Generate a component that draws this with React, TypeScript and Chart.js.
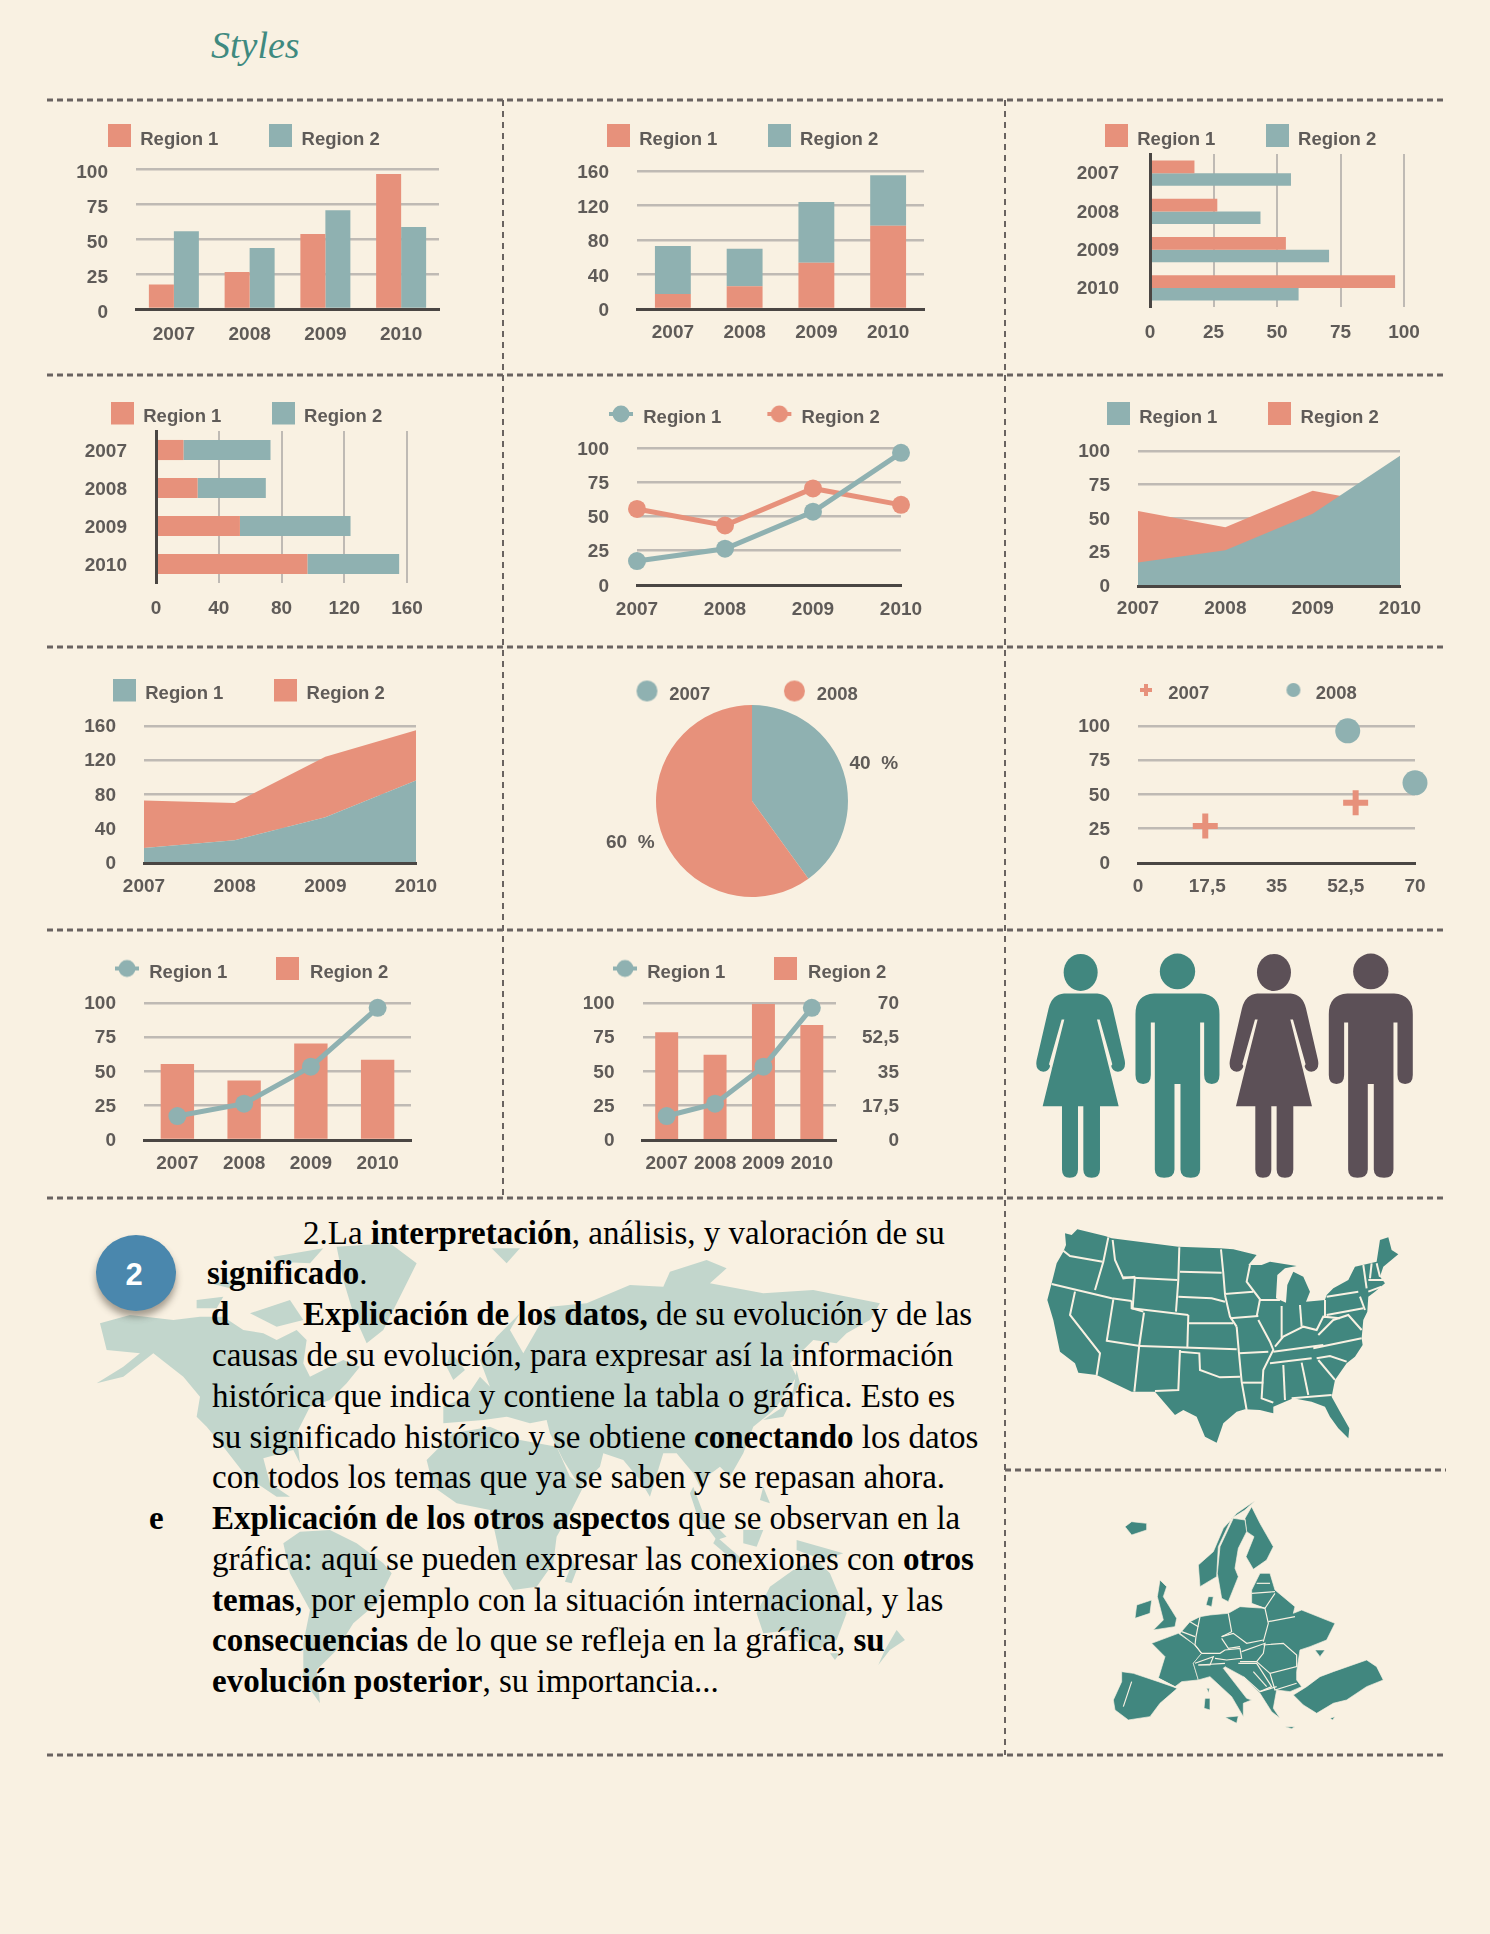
import React, { useEffect, useRef } from "react";
import { Chart, registerables } from "chart.js";

Chart.register(...registerables);

// ---------- data ----------
const years = ["2007", "2008", "2009", "2010"];
const region1 = [17.5, 26.5, 53.5, 96.5];
const region2 = [55.5, 43.5, 70.5, 58.5];
const rightAxisBars = [55, 43.5, 69.5, 58.8];
const pieLabels = ["2007", "2008"];
const pieValues = [40, 60];
const scatter2007X = [17, 55];
const scatter2007Y = [27, 44];
const scatter2008X = [53, 70];
const scatter2008Y = [96.5, 58.5];
const ticks70 = [0, 17.5, 35, 52.5, 70];

const textLines: any[] = [
  { x: 303, parts: [["2.La ", 0], ["interpretación", 1], [", análisis, y valoración de su", 0]] },
  { x: 207, parts: [["significado", 1], [".", 0]] },
  { x: 303, lead: ["d", 211], parts: [["Explicación de los datos,", 1], [" de su evolución y de las", 0]] },
  { x: 212, parts: [["causas de su evolución, para expresar así la información", 0]] },
  { x: 212, parts: [["histórica que indica y contiene la tabla o gráfica. Esto es", 0]] },
  { x: 212, parts: [["su significado histórico y se obtiene ", 0], ["conectando", 1], [" los datos", 0]] },
  { x: 212, parts: [["con todos los temas que ya se saben y se repasan ahora.", 0]] },
  { x: 212, lead: ["e", 149], parts: [["Explicación de los otros aspectos", 1], [" que se observan en la", 0]] },
  { x: 212, parts: [["gráfica: aquí se pueden expresar las conexiones con ", 0], ["otros", 1]] },
  { x: 212, parts: [["temas", 1], [", por ejemplo con la situación internacional, y las", 0]] },
  { x: 212, parts: [["consecuencias", 1], [" de lo que se refleja en la gráfica, ", 0], ["su", 1]] },
  { x: 212, parts: [["evolución posterior", 1], [", su importancia...", 0]] },
];

// ---------- style ----------
const BG = "#f9f1e2";
const SALMON = "#e7917b";
const SLATE = "#8fb1b1";
const TEAL = "#41877f";
const PLUM = "#5c5057";
const INK = "#5f5b58";
const GRID = "#bfbab4";
const AXIS = "#4a4643";
const FONT = "'Liberation Sans', Arial, sans-serif";
const MARK_SHIFT = 4;

function mk(w: number, h: number, draw: (c: any) => void) {
  const cv = document.createElement("canvas");
  cv.width = w;
  cv.height = h + 2 * MARK_SHIFT;
  draw(cv.getContext("2d"));
  return cv;
}
const swatch = (color: string) => mk(23, 23, (c) => { c.fillStyle = color; c.fillRect(0, 0, 23, 23); });
const dot = (color: string, r: number) =>
  mk(2 * r + 2, 2 * r + 2, (c) => { c.fillStyle = color; c.beginPath(); c.arc(r + 1, r + 1, r, 0, 7); c.fill(); });
const lineDot = (color: string) =>
  mk(26, 20, (c) => {
    c.fillStyle = color;
    c.fillRect(1, 8, 24, 4);
    c.beginPath(); c.arc(13, 10, 8.5, 0, 7); c.fill();
  });
const plus = (color: string) =>
  mk(14, 14, (c) => { c.fillStyle = color; c.fillRect(5, 1, 4, 12); c.fillRect(1, 5, 12, 4); });

const fitToCell = (s: any) => {
  const d = s.chart.canvas.dataset;
  if (s.isHorizontal()) s.height = +d.bottom;
  else if (s.position === "right") s.width = +d.right;
  else s.width = +d.left;
  s.paddingLeft = s.paddingRight = s.paddingTop = s.paddingBottom = 0;
};

const valueAxis = (max: number, step: number, horizontal: boolean, pad: number, labelOffset = 1.5) => ({
  min: 0,
  max,
  afterFit: fitToCell,
  grid: { color: GRID, lineWidth: horizontal ? 2 : 2.6, drawTicks: false, tickLength: 0 },
  border: { display: false },
  ticks: {
    stepSize: step,
    padding: pad,
    labelOffset: horizontal ? 0 : labelOffset,
    color: INK,
    font: { family: FONT, weight: "bold", size: 19 },
    autoSkip: false,
    maxRotation: 0,
    callback: (v: any) => String(v).replace(".", ","),
  },
});
const catAxis = (pad: number, offset = true, labelOffset = 0) => ({
  afterFit: fitToCell,
  offset,
  grid: { display: false, drawTicks: false, tickLength: 0 },
  border: { display: true, color: AXIS, width: 3, z: 1 },
  ticks: {
    padding: pad,
    labelOffset,
    color: INK,
    font: { family: FONT, weight: "bold", size: 19 },
    autoSkip: false,
    maxRotation: 0,
    minRotation: 0,
  },
});

const barSet = (label: string, data: number[], color: string, extra: any = {}) => ({
  label, data, backgroundColor: color, borderWidth: 0, barPercentage: 1, ...extra,
});
const lineSet = (label: string, data: number[], color: string) => ({
  type: "line", label, data, borderColor: color, backgroundColor: color, borderWidth: 5, tension: 0,
  pointRadius: 9, pointBackgroundColor: color, pointBorderWidth: 0, clip: false,
});
const areaSet = (label: string, data: number[], color: string, fill: any) => ({
  label, data, fill, backgroundColor: color, borderWidth: 0, tension: 0, pointRadius: 0,
});

const pieLabelPlugin = {
  id: "pieLabels",
  afterDatasetsDraw(chart: any) {
    const { ctx } = chart;
    const meta = chart.getDatasetMeta(0);
    ctx.save();
    ctx.font = `bold 19px ${FONT}`;
    ctx.fillStyle = INK;
    ctx.textAlign = "center";
    ctx.textBaseline = "middle";
    meta.data.forEach((arc: any, i: number) => {
      const p = arc.getProps(["x", "y", "startAngle", "endAngle"], true);
      const mid = (p.startAngle + p.endAngle) / 2;
      ctx.fillText(`${pieValues[i]}  %`, p.x + Math.cos(mid) * 128, p.y + Math.sin(mid) * 128 + 2);
    });
    ctx.restore();
  },
};

// box: canvas rectangle, plot: target chart area (page pixels); legend: marker-left x, centre y, gap, marker box width
const charts: any[] = [
  {
    box: [50, 104, 500, 372], plot: [136, 169, 439, 309],
    legend: { x: 108, y: 135.5, gap: 51, w: 23, items: () => [["Region 1", swatch(SALMON)], ["Region 2", swatch(SLATE)]] },
    config: () => ({
      type: "bar",
      data: { labels: years, datasets: [barSet("Region 1", region1, SALMON, { categoryPercentage: 0.66 }), barSet("Region 2", region2, SLATE, { categoryPercentage: 0.66 })] },
      scales: { x: catAxis(14), y: valueAxis(100, 25, false, 28, 3.5) },
    }),
  },
  {
    box: [506, 104, 1002, 372], plot: [637, 171, 924, 309],
    legend: { x: 607, y: 135.5, gap: 50.5, w: 23, items: () => [["Region 1", swatch(SALMON)], ["Region 2", swatch(SLATE)]] },
    config: () => ({
      type: "bar",
      data: { labels: years, datasets: [barSet("Region 1", region1, SALMON, { categoryPercentage: 0.5 }), barSet("Region 2", region2, SLATE, { categoryPercentage: 0.5 })] },
      scales: { x: { ...catAxis(12), stacked: true }, y: { ...valueAxis(160, 40, false, 28, 2), stacked: true } },
    }),
  },
  {
    box: [1008, 104, 1450, 372], plot: [1150, 154, 1404, 307],
    legend: { x: 1105, y: 135.5, gap: 50.5, w: 23, items: () => [["Region 1", swatch(SALMON)], ["Region 2", swatch(SLATE)]] },
    config: () => ({
      type: "bar", indexAxis: "y",
      data: { labels: years, datasets: [barSet("Region 1", region1, SALMON, { categoryPercentage: 0.66 }), barSet("Region 2", region2, SLATE, { categoryPercentage: 0.66 })] },
      scales: { x: valueAxis(100, 25, true, 14), y: catAxis(31, true, 1) },
    }),
  },
  {
    box: [50, 378, 500, 644], plot: [156, 431, 407, 583],
    legend: { x: 111, y: 413, gap: 50.5, w: 23, items: () => [["Region 1", swatch(SALMON)], ["Region 2", swatch(SLATE)]] },
    config: () => ({
      type: "bar", indexAxis: "y",
      data: { labels: years, datasets: [barSet("Region 1", region1, SALMON, { categoryPercentage: 0.53 }), barSet("Region 2", region2, SLATE, { categoryPercentage: 0.53 })] },
      scales: { x: { ...valueAxis(160, 40, true, 14), stacked: true }, y: { ...catAxis(29, true, 2), stacked: true } },
    }),
  },
  {
    box: [506, 378, 1002, 644], plot: [637, 448, 901, 585],
    legend: { x: 608, y: 414, gap: 45, w: 26, items: () => [["Region 1", lineDot(SLATE)], ["Region 2", lineDot(SALMON)]] },
    config: () => ({
      type: "line",
      data: { labels: years, datasets: [lineSet("Region 1", region1, SLATE), lineSet("Region 2", region2, SALMON)] },
      scales: { x: catAxis(13, false), y: valueAxis(100, 25, false, 28) },
    }),
  },
  {
    box: [1008, 378, 1450, 644], plot: [1138, 451, 1400, 586],
    legend: { x: 1107, y: 413.5, gap: 51, w: 23, items: () => [["Region 1", swatch(SLATE)], ["Region 2", swatch(SALMON)]] },
    config: () => ({
      type: "line",
      data: { labels: years, datasets: [areaSet("Region 1", region1, SLATE, "origin"), areaSet("Region 2", region2, SALMON, "origin")] },
      scales: { x: catAxis(11, false), y: valueAxis(100, 25, false, 28, 1) },
    }),
  },
  {
    box: [50, 650, 500, 927], plot: [144, 726, 416, 863],
    legend: { x: 113, y: 690, gap: 51, w: 23, items: () => [["Region 1", swatch(SLATE)], ["Region 2", swatch(SALMON)]] },
    config: () => ({
      type: "line",
      data: { labels: years, datasets: [areaSet("Region 1", region1, SLATE, "origin"), areaSet("Region 2", region2, SALMON, "-1")] },
      scales: { x: catAxis(12, false), y: { ...valueAxis(160, 40, false, 28, 1), stacked: true } },
    }),
  },
  {
    box: [506, 650, 1002, 927], plot: [656, 705, 848, 897], plugins: [pieLabelPlugin],
    legend: { x: 634, y: 691, gap: 71, w: 26, items: () => [[pieLabels[0], dot(SLATE, 10.5)], [pieLabels[1], dot(SALMON, 10.5)]] },
    config: () => ({
      type: "pie",
      data: { labels: pieLabels, datasets: [{ data: pieValues, backgroundColor: [SLATE, SALMON], borderWidth: 0 }] },
    }),
  },
  {
    box: [1008, 650, 1450, 927], plot: [1138, 726, 1415, 863],
    legend: { x: 1133, y: 690, gap: 71, w: 26, items: () => [["2007", plus(SALMON)], ["2008", dot(SLATE, 7)]] },
    config: () => ({
      type: "scatter",
      data: {
        datasets: [
          { label: "2007", data: scatter2007X.map((x, i) => ({ x, y: scatter2007Y[i] })), pointStyle: "cross", pointRadius: 12.5, pointBorderWidth: 6, pointBorderColor: SALMON, clip: false },
          { label: "2008", data: scatter2008X.map((x, i) => ({ x, y: scatter2008Y[i] })), pointStyle: "circle", pointRadius: 12.5, pointBorderWidth: 0, pointBackgroundColor: SLATE, clip: false },
        ],
      },
      scales: {
        x: {
          ...catAxis(12, false), type: "linear", min: 0, max: 70,
          afterBuildTicks: (s: any) => { s.ticks = ticks70.map((value) => ({ value })); },
          ticks: { ...catAxis(12, false).ticks, callback: (v: any) => String(v).replace(".", ",") },
        },
        y: valueAxis(100, 25, false, 28, 1),
      },
    }),
  },
  {
    box: [50, 933, 500, 1195], plot: [144, 1003, 411, 1140],
    legend: { x: 114, y: 968.5, gap: 47.5, w: 26, items: () => [["Region 1", lineDot(SLATE)], ["Region 2", swatch(SALMON)]] },
    config: () => ({
      type: "bar",
      data: { labels: years, datasets: [lineSet("Region 1", region1, SLATE), barSet("Region 2", region2, SALMON, { categoryPercentage: 0.5 })] },
      scales: { x: catAxis(12), y: valueAxis(100, 25, false, 28, 1) },
    }),
  },
  {
    box: [506, 933, 1002, 1195], plot: [642.5, 1003, 836, 1140], rightEnd: 899,
    legend: { x: 612, y: 968.5, gap: 47.5, w: 26, items: () => [["Region 1", lineDot(SLATE)], ["Region 2", swatch(SALMON)]] },
    config: () => ({
      type: "bar",
      data: {
        labels: years,
        datasets: [
          { ...lineSet("Region 1", region1, SLATE), yAxisID: "y" },
          barSet("Region 2", rightAxisBars, SALMON, { categoryPercentage: 0.475, yAxisID: "y1" }),
        ],
      },
      scales: {
        x: catAxis(12),
        y: valueAxis(100, 25, false, 28, 1),
        y1: (() => {
          const a: any = valueAxis(70, 17.5, false, 26, 1);
          return {
            ...a, position: "right", grid: { display: false, drawTicks: false, tickLength: 0 },
            ticks: { ...a.ticks, crossAlign: "far" },
            afterBuildTicks: (s: any) => { s.ticks = ticks70.map((value) => ({ value })); },
          };
        })(),
      },
    }),
  },
];

function ChartCell({ def }: { def: any }) {
  const ref = useRef<HTMLCanvasElement>(null);
  const [x0, y0, x1, y1] = def.box;
  const [l, t, r, b] = def.plot;
  useEffect(() => {
    const cfg = def.config();
    const lg = def.legend;
    const items = lg.items();
    const hasScales = !!cfg.scales;
    const cv: any = ref.current;
    cv.dataset.left = String(l - x0);
    cv.dataset.right = String((def.rightEnd || r) - r);
    cv.dataset.bottom = String(y1 - b);
    const place = {
      id: "placeLegend",
      afterLayout(chart: any) {
        const L = chart.legend;
        L.left = lg.x - x0 - lg.gap;
        L.right = 4000;
        L.top = lg.y + MARK_SHIFT - y0 - lg.gap - 9.25;
        L.bottom = 4000;
      },
    };
    const chart = new Chart(cv, {
      type: cfg.type,
      data: cfg.data,
      plugins: [place, ...(def.plugins || [])],
      options: {
        responsive: false,
        animation: false,
        indexAxis: cfg.indexAxis || "x",
        layout: {
          padding: {
            left: hasScales ? 0 : l - x0,
            top: t - y0,
            right: x1 - (def.rightEnd || r),
            bottom: hasScales ? 0 : y1 - b,
          },
        },
        scales: cfg.scales,
        plugins: {
          tooltip: { enabled: false },
          legend: {
            display: true,
            position: "top",
            align: "start",
            maxHeight: 0.01,
            labels: {
              color: INK,
              font: { family: FONT, weight: "bold", size: 18.5 },
              usePointStyle: true,
              pointStyleWidth: lg.w,
              padding: lg.gap,
              generateLabels: () =>
                items.map((it: any, i: number) => ({
                  text: it[0], pointStyle: it[1], fontColor: INK, hidden: false, lineWidth: 0, datasetIndex: i, index: i,
                })),
            },
          },
        },
      },
    } as any);
    return () => chart.destroy();
  }, []);
  return (
    <canvas
      ref={ref}
      width={x1 - x0}
      height={y1 - y0}
      style={{ position: "absolute", left: x0, top: y0, width: x1 - x0, height: y1 - y0 }}
    />
  );
}

// ---------- decorations (in crop coordinates, mapped by transforms) ----------
const womanBody =
  "M-50,962 L50,962 Q85,964 96,1003 L132,1148 Q138,1178 112,1181 Q95,1181 90,1160 L86,1172 L114,1278 L58,1278 L58,1455 Q58,1478 33,1478 Q8,1478 8,1455 L8,1278 L-8,1278 L-8,1455 Q-8,1478 -33,1478 Q-56,1478 -56,1455 L-56,1278 L-114,1278 L-86,1172 L-90,1160 Q-95,1181 -112,1181 Q-138,1178 -132,1148 L-96,1003 Q-85,964 -50,962 Z";
const manBody =
  "M-70,962 L70,962 Q126,965 126,1020 L126,1190 Q126,1215 103,1215 Q80,1215 80,1190 L80,1043 L68,1043 L68,1455 Q68,1478 40,1478 Q9,1478 9,1455 L9,1215 L-9,1215 L-9,1455 Q-9,1478 -40,1478 Q-68,1478 -68,1455 L-68,1043 L-80,1043 L-80,1190 Q-80,1215 -103,1215 Q-126,1215 -126,1190 L-126,1020 Q-126,965 -70,962 Z";

function Person({ cx, woman, color }: any) {
  return (
    <g transform={`translate(${cx},0)`} fill={color}>
      <ellipse cx={0} cy={woman ? 903 : 900} rx={woman ? 51 : 53} ry={woman ? 52 : 50} />
      <path d={woman ? womanBody : manBody} />
      {woman && <path d="M49,1035 L57,1035 L95,1160 L86,1172 Z M-49,1035 L-57,1035 L-95,1160 L-86,1172 Z" fill={BG} />}
    </g>
  );
}

const usOutline =
  "M75,40 L95,45 L112,28 L195,48 L215,55 L415,80 L540,85 L580,88 L650,105 L625,135 L665,135 L690,125 L770,138 L735,145 L712,165 L708,235 L738,248 L742,195 L760,155 L790,170 L810,215 L798,245 L855,240 L860,225 L880,205 L925,180 L945,140 L1010,125 L1020,60 L1045,52 L1055,90 L1075,103 L1030,140 L1020,170 L1035,190 L1005,215 L985,230 L982,275 L970,300 L965,355 L968,375 L945,410 L920,430 L885,480 L875,530 L900,575 L928,625 L925,655 L895,625 L870,590 L855,560 L815,545 L760,535 L735,545 L700,560 L700,580 L660,570 L615,568 L590,575 L550,610 L530,668 L495,650 L470,590 L430,570 L405,585 L345,515 L290,515 L275,515 L170,465 L115,458 L105,430 L60,395 L40,300 L22,240 L35,190 L50,130 L70,95 L78,75 Z";
const usBorders = [
  "M70,92 L90,108 L188,125", "M205,52 L190,125 L165,210", "M218,60 L225,120 L250,175 L285,170", "M285,170 L278,265",
  "M35,192 L215,235 L275,243", "M105,215 L90,285 L180,400 L170,465", "M220,238 L200,365", "M275,243 L275,265 L310,275",
  "M312,278 L298,375 L283,515", "M200,362 L300,378", "M250,172 L412,180", "M418,82 L415,180 L408,275", "M275,265 L445,285",
  "M420,155 L545,158", "M415,230 L515,235 L555,245", "M445,285 L442,385", "M445,310 L580,310", "M300,378 L590,388",
  "M420,395 L478,400 L480,450 L540,472 L600,470", "M420,390 L415,510 L345,513", "M590,320 L597,400 L605,485 L620,570",
  "M605,488 L670,488", "M597,400 L685,395", "M655,300 L690,365 L700,390 L670,450 L665,535 L700,548",
  "M543,88 L550,160 L555,222 L640,215", "M555,225 L570,290 L590,320", "M570,295 L655,288", "M630,135 L620,185 L660,238 L650,290",
  "M660,240 L720,240", "M725,258 L725,355", "M780,255 L785,320", "M705,380 L730,350 L790,320 L830,330 L850,290 L900,295",
  "M700,395 L850,375", "M820,385 L965,355", "M690,430 L815,415", "M830,415 L870,408 L920,425", "M835,420 L885,480",
  "M785,428 L805,525", "M730,435 L735,540", "M755,535 L875,525", "M835,345 L880,300 L925,285 L965,330", "M855,240 L855,290",
  "M860,230 L955,215", "M860,285 L970,265", "M960,230 L975,270", "M970,135 L980,205", "M995,130 L990,175", "M1010,130 L1020,170",
  "M985,180 L1030,180", "M985,215 L1025,200",
];
const europeShapes = [
  "M75,110 L95,95 L140,100 L140,120 L95,135 Z",
  "M435,85 L455,50 L480,100 L520,170 L500,210 L460,238 L438,200 L462,140 L440,125 Z",
  "M295,225 L340,185 L370,115 L410,70 L465,32 L435,60 L395,85 L355,170 L350,260 L300,290 Z",
  "M400,85 L435,90 L440,125 L415,175 L405,235 L415,260 L385,335 L365,325 L352,250 L360,170 Z",
  "M325,320 L340,320 L335,350 L318,345 Z",
  "M180,270 L200,290 L190,320 L230,385 L225,410 L160,420 L190,390 L172,320 Z",
  "M110,345 L155,330 L150,370 L105,385 Z",
  "M155,460 L235,430 L285,465 L305,490 L280,520 L295,570 L245,575 L225,590 L175,565 L195,500 Z",
  "M65,545 L100,550 L175,575 L232,595 L180,640 L150,680 L85,690 L45,660 L40,630 L65,575 Z",
  "M240,430 L270,395 L300,380 L330,375 L385,370 L420,350 L495,355 L455,340 L455,300 L480,250 L510,250 L525,300 L585,350 L580,370 L605,360 L705,400 L680,450 L630,470 L600,480 L590,545 L590,570 L605,590 L570,605 L530,600 L520,655 L540,685 L515,665 L480,610 L430,560 L375,530 L370,535 L440,625 L455,630 L430,640 L430,680 L395,620 L330,560 L295,570 L280,520 L305,490 L285,465 Z",
  "M580,615 L620,590 L660,560 L700,545 L800,510 L830,530 L850,570 L800,590 L740,630 L700,640 L650,670 L610,645 Z",
  "M375,682 L415,678 L410,700 Z", "M315,625 L330,625 L330,660 L312,655 Z", "M320,595 L328,595 L326,610 Z",
  "M645,480 L675,480 L660,500 Z", "M555,710 L585,710 L575,716 Z", "M690,685 L705,680 L698,690 Z",
];
const europeBorders = [
  "M300,380 L288,440 L285,465 L305,490", "M385,370 L395,425 L365,440", "M305,490 L360,490 L375,480",
  "M365,440 L400,430 L440,460 L490,450", "M365,445 L385,475 L420,470", "M495,355 L505,400 L490,455", "M505,395 L585,380",
  "M460,345 L495,355 L525,310", "M455,310 L525,305", "M470,280 L510,280", "M375,480 L420,475 L425,505 L380,510 L345,505",
  "M425,485 L495,460 L490,490 L470,515 L420,515", "M490,465 L550,460 L590,495 L590,530 L510,550 L470,515",
  "M285,520 L340,500 L330,525 L295,525", "M295,525 L375,520", "M415,520 L470,520 L515,590 L480,605 L430,560",
  "M460,545 L500,590", "M510,550 L525,600 L590,580", "M480,605 L530,590", "M245,425 L285,440", "M270,395 L295,410",
  "M95,575 L70,650", "M175,565 L232,595",
];
const worldShapes = [
  "M30,310 L120,285 L250,300 L330,290 L400,290 L460,330 L520,340 L560,360 L620,330 L650,360 L640,430 L660,470 L700,450 L760,420 L810,440 L770,490 L720,540 L660,560 L620,640 L630,730 L610,690 L520,715 L540,790 L600,830 L560,830 L470,770 L400,680 L350,620 L320,590 L330,530 L280,470 L190,400 L100,470 L20,490 L100,440 L150,400 L50,390 Z",
  "M320,240 L400,230 L380,265 L320,265 Z", "M550,110 L700,85 L660,130 L560,125 Z", "M480,280 L600,240 L640,300 L560,320 L520,300 Z", "M360,190 L450,180 L420,205 Z",
  "M740,80 L900,70 L980,130 L930,230 L880,330 L830,370 L790,280 L760,180 Z",
  "M1205,85 L1290,85 L1250,130 Z",
  "M580,970 L630,935 L720,930 L800,970 L880,1030 L905,1060 L860,1150 L790,1210 L740,1290 L680,1350 L690,1450 L640,1380 L640,1270 L660,1170 L600,1060 Z",
  "M1010,720 L1090,640 L1200,620 L1290,660 L1400,680 L1440,770 L1480,800 L1440,880 L1400,950 L1390,1030 L1340,1100 L1270,1110 L1240,1060 L1220,960 L1200,870 L1100,850 L1030,800 Z",
  "M1060,610 L1060,560 L1130,530 L1170,470 L1200,500 L1170,420 L1220,350 L1290,280 L1260,330 L1300,400 L1380,260 L1490,250 L1620,195 L1720,200 L1740,155 L1850,120 L1910,145 L1860,190 L2020,220 L2170,210 L2370,250 L2340,300 L2270,340 L2240,370 L2170,360 L2100,430 L2120,470 L2060,560 L2040,580 L1990,620 L1960,700 L1920,770 L1890,740 L1850,770 L1830,800 L1810,760 L1760,700 L1720,700 L1680,830 L1650,780 L1600,720 L1540,700 L1530,740 L1470,800 L1420,720 L1380,640 L1370,600 L1320,610 L1250,590 L1180,600 Z",
  "M1810,800 L1840,880 L1910,950 L1880,960 L1820,880 L1800,820 Z", "M1960,930 L2020,930 L2000,980 L1960,970 Z", "M1880,950 L1960,1020 L1940,1030 L1870,970 Z",
  "M2020,800 L2040,850 L2010,840 Z", "M2120,960 L2260,1000 L2200,1020 L2120,990 Z",
  "M2000,1180 L2040,1100 L2110,1050 L2180,1020 L2220,1060 L2270,1180 L2240,1260 L2180,1290 L2110,1230 L2020,1240 Z",
  "M2220,1300 L2250,1300 L2235,1320 Z", "M2420,1230 L2445,1260 L2400,1290 L2365,1335 L2385,1290 Z",
  "M2120,450 L2130,490 L2080,590 L2020,600 L2080,560 L2110,510 Z", "M1450,1020 L1460,1050 L1445,1090 L1425,1085 Z",
  "M1080,390 L1125,450 L1090,480 L1070,440 Z",
];

const dashH = [100, 375, 647, 930, 1198, 1755];

export default function App() {
  useEffect(() => {
    document.body.style.margin = "0";
    document.body.style.background = BG;
  }, []);
  return (
    <div style={{ position: "absolute", left: 0, top: 0, width: 1490, height: 1934, background: BG, overflow: "hidden" }}>
      <svg width={1490} height={1934} style={{ position: "absolute", left: 0, top: 0 }}>
        <g transform="translate(90,1220) scale(0.3333)" fill="#c2d6cc">
          {worldShapes.map((d, i) => <path key={i} d={d} />)}
        </g>
        {dashH.map((y) => (
          <line key={y} x1={47} x2={1446} y1={y} y2={y} stroke="#6a6360" strokeWidth={3} strokeDasharray="6 4" />
        ))}
        <line x1={1005} x2={1446} y1={1470} y2={1470} stroke="#6a6360" strokeWidth={3} strokeDasharray="6 4" />
        <line x1={503} x2={503} y1={100} y2={1198} stroke="#6a6360" strokeWidth={2} strokeDasharray="6 5" />
        <line x1={1005} x2={1005} y1={100} y2={1755} stroke="#6a6360" strokeWidth={2} strokeDasharray="6 5" />
        <g transform="translate(1000,650) scale(0.3333,0.3571)">
          <Person cx={242} woman color={TEAL} />
          <Person cx={532.5} color={TEAL} />
          <Person cx={822} woman color={PLUM} />
          <Person cx={1112.5} color={PLUM} />
        </g>
        <g transform="translate(1040,1220) scale(0.3333)">
          <path d={usOutline} fill={TEAL} />
          {usBorders.map((d, i) => <path key={i} d={d} fill="none" stroke={BG} strokeWidth={6} />)}
        </g>
        <g transform="translate(1100,1490) scale(0.3333)">
          {europeShapes.map((d, i) => <path key={i} d={d} fill={TEAL} stroke={BG} strokeWidth={2} />)}
          {europeBorders.map((d, i) => <path key={i} d={d} fill="none" stroke={BG} strokeWidth={3.5} />)}
        </g>
      </svg>

      <div style={{ position: "absolute", left: 211, top: 23, fontFamily: "'Liberation Serif', serif", fontStyle: "italic", fontSize: 38, lineHeight: "44px", color: "#3f8a80" }}>
        Styles
      </div>

      <div style={{ position: "absolute", left: 96, top: 1235, width: 80, height: 76, borderRadius: "50%", background: "#4a87ad", boxShadow: "0 6px 7px rgba(60,50,40,.45)", color: "#fff", fontFamily: FONT, fontWeight: "bold", fontSize: 31, lineHeight: "80px", textAlign: "center", textIndent: -4 }}>
        2
      </div>

      {textLines.map((ln, i) => {
        const top = 1212.6 + i * 40.78;
        const base: any = { position: "absolute", top, whiteSpace: "pre", fontFamily: "'Liberation Serif', serif", fontSize: 33, lineHeight: "40px", color: "#000" };
        return (
          <React.Fragment key={i}>
            {ln.lead && <div style={{ ...base, left: ln.lead[1], fontWeight: "bold" }}>{ln.lead[0]}</div>}
            <div style={{ ...base, left: ln.x }}>
              {ln.parts.map((p: any, j: number) => (
                <span key={j} style={{ fontWeight: p[1] ? "bold" : "normal" }}>{p[0]}</span>
              ))}
            </div>
          </React.Fragment>
        );
      })}

      {charts.map((def, i) => <ChartCell key={i} def={def} />)}
    </div>
  );
}
